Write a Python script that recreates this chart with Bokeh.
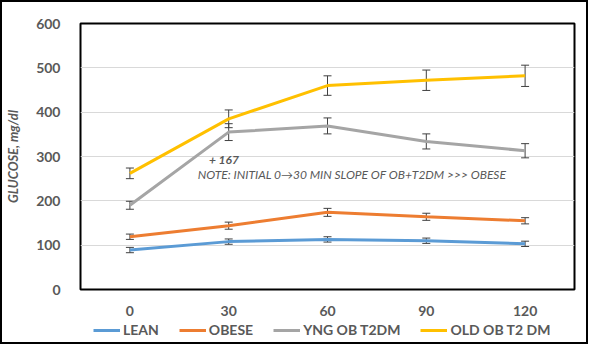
from bokeh.plotting import figure
from bokeh.models import (ColumnDataSource, Whisker, TeeHead, Label, Legend, LegendItem,
                          FixedTicker, Range1d)
from bokeh.layouts import column
from bokeh.embed import file_html
from bokeh.resources import INLINE

# ---- data ----
minutes = [0, 30, 60, 90, 120]
tick_labels = ["0", "30", "60", "90", "120"]
series_names = ["LEAN", "OBESE", "YNG OB T2DM", "OLD OB T2 DM"]
lean = [89, 108, 113, 110, 103]
lean_err = [6, 6, 6, 6, 6]
obese = [119, 144, 174, 164, 155]
obese_err = [6, 8, 9, 8, 7]
yng_ob_t2dm = [190, 355, 369, 334, 313]
yng_err = [9, 19, 18, 17, 16]
old_ob_t2dm = [262, 385, 460, 472, 482]
old_err = [12, 20, 22, 23, 24]
colors = ["#5B9BD5", "#ED7D31", "#A5A5A5", "#FFC000"]

FONT = "Lato"
GRAY = "#595959"

p = figure(width=584, height=316, output_backend="svg", toolbar_location=None,
           x_range=Range1d(-15, 135), y_range=Range1d(0, 600),
           min_border_left=73, min_border_right=12, min_border_top=21, min_border_bottom=27)

p.outline_line_color = "black"
p.outline_line_width = 2
p.background_fill_color = "white"
p.border_fill_color = "white"

# axes
p.xaxis.ticker = FixedTicker(ticks=minutes)
p.xaxis.major_label_overrides = {m: t for m, t in zip(minutes, tick_labels)}
p.yaxis.ticker = FixedTicker(ticks=[0, 100, 200, 300, 400, 500, 600])
for ax in (p.xaxis[0], p.yaxis[0]):
    ax.axis_line_color = None
    ax.major_tick_line_color = None
    ax.minor_tick_line_color = None
    ax.major_label_text_font = FONT
    ax.major_label_text_font_style = "bold"
    ax.major_label_text_font_size = "14px"
    ax.major_label_text_color = GRAY
p.xaxis.major_label_standoff = 10
p.yaxis.major_label_standoff = 14
p.yaxis.axis_label = "GLUCOSE, mg/dl"
p.yaxis.axis_label_text_font = FONT
p.yaxis.axis_label_text_font_style = "bold italic"
p.yaxis.axis_label_text_font_size = "13px"
p.yaxis.axis_label_text_color = GRAY
p.yaxis.axis_label_standoff = 12

p.xgrid.grid_line_color = None
p.ygrid.grid_line_color = "#D9D9D9"
p.ygrid.grid_line_width = 1

all_vals = [lean, obese, yng_ob_t2dm, old_ob_t2dm]
all_errs = [lean_err, obese_err, yng_err, old_err]
for name, vals, errs, col in zip(series_names, all_vals, all_errs, colors):
    src = ColumnDataSource(dict(x=minutes, y=vals,
                                upper=[v + e for v, e in zip(vals, errs)],
                                lower=[v - e for v, e in zip(vals, errs)]))
    p.line("x", "y", source=src, line_color=col, line_width=3)
    w = Whisker(source=src, base="x", upper="upper", lower="lower",
                line_color="#404040", line_width=1,
                upper_head=TeeHead(size=8, line_color="#404040", line_width=1),
                lower_head=TeeHead(size=8, line_color="#404040", line_width=1))
    p.add_layout(w)

p.add_layout(Label(x=24, y=293, text="+ 167", text_font=FONT, text_font_style="bold italic",
                   text_font_size="12px", text_color=GRAY, text_baseline="middle"))
p.add_layout(Label(x=20.6, y=259, text="NOTE: INITIAL  0\u219230 MIN SLOPE OF OB+T2DM >>> OBESE",
                   text_font=FONT, text_font_style="italic",
                   text_font_size="12px", text_color=GRAY, text_baseline="middle"))

# legend strip below the chart (its series lie outside its own view range)
lg = figure(width=584, height=24, output_backend="svg", toolbar_location=None,
            x_range=Range1d(-15, 135), y_range=Range1d(1000, 1001),
            x_axis_location=None, y_axis_location=None,
            min_border_left=0, min_border_right=0, min_border_top=0, min_border_bottom=0)
lg.grid.grid_line_color = None
lg.outline_line_color = None
lg.background_fill_color = "white"
lg.border_fill_color = "white"
items = []
for name, vals, col in zip(series_names, all_vals, colors):
    r = lg.line(minutes, vals, line_color=col, line_width=3)
    items.append(LegendItem(label=name, renderers=[r]))
legend = Legend(items=items, orientation="horizontal", location=(13, 4),
                label_text_font=FONT, label_text_font_style="bold",
                label_text_font_size="14px", label_text_color=GRAY,
                glyph_width=27, glyph_height=16, label_standoff=3, spacing=20,
                padding=0, margin=0, border_line_color=None,
                background_fill_alpha=0)
lg.add_layout(legend, "center")

layout = column(p, lg, spacing=0, styles={"border": "2px solid black"})
open("out.html", "w").write(file_html(layout, INLINE))
